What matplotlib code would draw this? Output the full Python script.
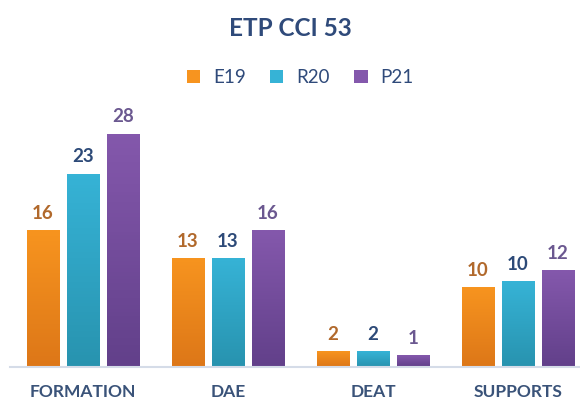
import matplotlib
matplotlib.use("Agg")
import matplotlib.pyplot as plt
import numpy as np
from matplotlib.colors import LinearSegmentedColormap

# data
categories = ["FORMATION", "DAE", "DEAT", "SUPPORTS"]
series = ["E19", "R20", "P21"]
e19 = [16.4, 13.1, 1.9, 9.6]
r20 = [23.2, 13.1, 1.9, 10.3]
p21 = [28.0, 16.4, 1.4, 11.6]

bar_top = ["#F7941F", "#36B3D6", "#8458AC"]
bar_bot = ["#DD7718", "#2893AF", "#62408A"]
label_col = ["#B1692C", "#2D4A78", "#6B5890"]
navy = "#2F4A7A"

plt.rcParams["font.family"] = ["Lato", "DejaVu Sans"]

fig = plt.figure(figsize=(5.8, 4.04), dpi=100)
ax = fig.add_axes([0.0181, 0.0916, 0.9819, 0.661])

x = np.arange(len(categories))
step = 0.276
width = 0.224
for i, (vals, name) in enumerate(zip([e19, r20, p21], series)):
    bars = ax.bar(x + (i - 1) * step, vals, width, color=bar_top[i], label=name, zorder=2)
    cmap = LinearSegmentedColormap.from_list(name, [bar_bot[i], bar_top[i]])
    for b, v in zip(bars, vals):
        grad = np.linspace(0, 1, 64).reshape(-1, 1)
        im = ax.imshow(grad, cmap=cmap, aspect="auto", origin="lower",
                       extent=[b.get_x(), b.get_x() + b.get_width(), 0, v], zorder=2.5)
        im.set_clip_path(b)
        ax.text(b.get_x() + b.get_width() / 2, v + 1.0, f"{round(v)}",
                ha="center", va="bottom", fontsize=13.5, fontweight="bold",
                color=label_col[i])

ax.set_xlim(-0.5, 3.428)
ax.set_ylim(0, 32.05)
ax.set_yticks([])
ax.set_xticks(x)
ax.set_xticklabels(categories, fontsize=12.5, fontweight="bold", color="#3A5379")
ax.tick_params(axis="x", length=0, pad=12)
for s in ["top", "right", "left"]:
    ax.spines[s].set_visible(False)
ax.spines["bottom"].set_color("#D5DCE8")
ax.spines["bottom"].set_linewidth(1.5)

fig.text(0.5, 0.93, "ETP CCI 53", ha="center", va="center",
         fontsize=17.5, fontweight="bold", color=navy)
leg = fig.legend(*ax.get_legend_handles_labels(), loc="center", bbox_to_anchor=(0.518, 0.808),
                 ncol=3, frameon=False, fontsize=13.5, handlelength=0.7, handleheight=0.7,
                 handletextpad=0.7, columnspacing=1.3)
for t in leg.get_texts():
    t.set_color(navy)

fig.savefig("out.png", dpi=100)
